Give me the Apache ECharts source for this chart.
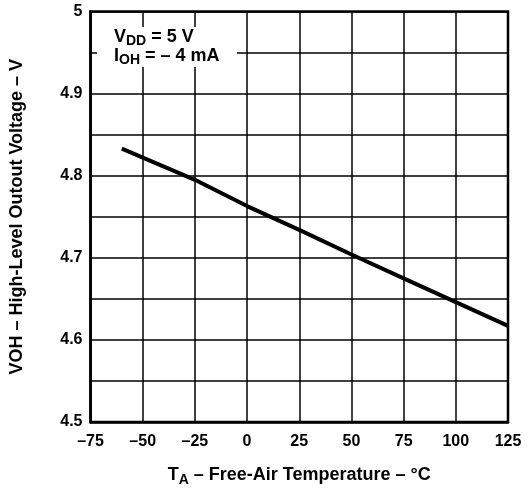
<!DOCTYPE html>
<html><head><meta charset="utf-8">
<script src="https://cdn.jsdelivr.net/npm/echarts@6/dist/echarts.min.js"></script>
<style>html,body{margin:0;padding:0;background:#fff}#c{width:532px;height:492px}</style>
</head><body><div id="c"></div>
<script>
const temperatures = [-60, -25, 0, 25, 50, 75, 100, 125];
const vohValues = [4.833, 4.795, 4.763, 4.734, 4.704, 4.675, 4.646, 4.617];
const xTicks = [-75, -50, -25, 0, 25, 50, 75, 100, 125];
const yTickLabels = ['4.5', '4.6', '4.7', '4.8', '4.9', '5'];
const FONT = '"Liberation Sans", Arial, Helvetica, sans-serif';

const chart = echarts.init(document.getElementById('c'));
chart.setOption({
  animation: false,
  backgroundColor: '#fff',
  grid: { left: 90.5, right: 24, top: 11.5, bottom: 69, show: true, borderColor: '#000', borderWidth: 2.5 },
  xAxis: {
    type: 'value', min: -75, max: 125, interval: 25,
    axisLine: { show: true, onZero: false, lineStyle: { color: '#000', width: 2.5 } },
    axisTick: { show: false },
    splitLine: { show: true, lineStyle: { color: '#000', width: 1.5 } },
    axisLabel: {
      color: '#000', fontFamily: FONT, fontWeight: 'bold', fontSize: 16, margin: 12,
      formatter: v => xTicks.includes(v) ? (v < 0 ? '\u2013' + Math.abs(v) : String(v)) : ''
    },
    name: '{n|T}{s|A}{n| \u2013 Free-Air Temperature \u2013 °C}',
    nameLocation: 'middle', nameGap: 42,
    nameTextStyle: {
      rich: {
        n: { fontFamily: FONT, fontWeight: 'bold', fontSize: 18, color: '#000' },
        s: { fontFamily: FONT, fontWeight: 'bold', fontSize: 14, color: '#000', padding: [9, 0, 0, 0] }
      }
    }
  },
  yAxis: {
    type: 'value', min: 4.5, max: 5, interval: 0.05,
    axisLine: { show: true, onZero: false, lineStyle: { color: '#000', width: 2.5 } },
    axisTick: { show: false },
    splitLine: { show: true, lineStyle: { color: '#000', width: 1.5 } },
    axisLabel: {
      color: '#000', fontFamily: FONT, fontWeight: 'bold', fontSize: 16, margin: 8,
      formatter: v => {
        const k = Math.round(v * 100);
        if (k % 10 !== 0) return '';
        const idx = Math.round((v - 4.5) * 10);
        return yTickLabels[idx] || '';
      }
    },
    name: 'VOH \u2013 High-Level Outout Voltage \u2013 V',
    nameLocation: 'middle', nameGap: 64, nameRotate: 90,
    nameTextStyle: { fontFamily: FONT, fontWeight: 'bold', fontSize: 18, color: '#000' }
  },
  graphic: [
    { type: 'rect', z: 100, shape: { x: 97, y: 27, width: 140, height: 40 }, style: { fill: '#fff' } },
    { type: 'text', z: 101, left: 114, top: 28,
      style: { text: '{n|V}{s|DD}{n| = 5 V}', rich: {
        n: { fontFamily: FONT, fontWeight: 'bold', fontSize: 18, fill: '#000' },
        s: { fontFamily: FONT, fontWeight: 'bold', fontSize: 14, fill: '#000', padding: [8, 0, 0, 0] } } } },
    { type: 'text', z: 101, left: 114, top: 47,
      style: { text: '{n|I}{s|OH}{n| = \u2013 4 mA}', rich: {
        n: { fontFamily: FONT, fontWeight: 'bold', fontSize: 18, fill: '#000' },
        s: { fontFamily: FONT, fontWeight: 'bold', fontSize: 14, fill: '#000', padding: [8, 0, 0, 0] } } } }
  ],
  series: [{
    type: 'line', showSymbol: false, symbol: 'none',
    data: temperatures.map((t, i) => [t, vohValues[i]]),
    lineStyle: { color: '#000', width: 4 }, z: 5
  }]
});
</script></body></html>
